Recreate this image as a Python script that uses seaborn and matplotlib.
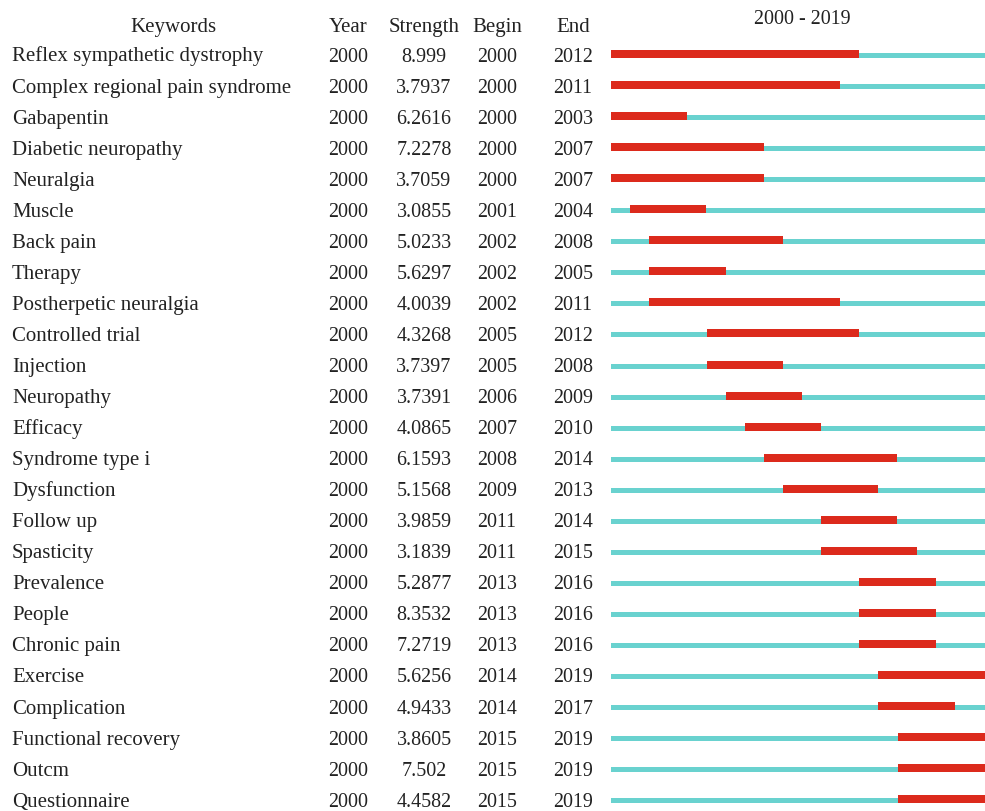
import matplotlib
matplotlib.use("Agg")
import matplotlib.pyplot as plt
import matplotlib.transforms as mtransforms
import seaborn as sns

keywords = [
    "Reflex sympathetic dystrophy", "Complex regional pain syndrome", "Gabapentin",
    "Diabetic neuropathy", "Neuralgia", "Muscle", "Back pain", "Therapy",
    "Postherpetic neuralgia", "Controlled trial", "Injection", "Neuropathy",
    "Efficacy", "Syndrome type i", "Dysfunction", "Follow up", "Spasticity",
    "Prevalence", "People", "Chronic pain", "Exercise", "Complication",
    "Functional recovery", "Outcm", "Questionnaire",
]
years = [2000] * 25
strength = [
    "8.999", "3.7937", "6.2616", "7.2278", "3.7059", "3.0855", "5.0233", "5.6297",
    "4.0039", "4.3268", "3.7397", "3.7391", "4.0865", "6.1593", "5.1568", "3.9859",
    "3.1839", "5.2877", "8.3532", "7.2719", "5.6256", "4.9433", "3.8605", "7.502",
    "4.4582",
]
begin = [2000, 2000, 2000, 2000, 2000, 2001, 2002, 2002, 2002, 2005, 2005, 2006,
         2007, 2008, 2009, 2011, 2011, 2013, 2013, 2013, 2014, 2014, 2015, 2015, 2015]
end = [2012, 2011, 2003, 2007, 2007, 2004, 2008, 2005, 2011, 2012, 2008, 2009,
       2010, 2014, 2013, 2014, 2015, 2016, 2016, 2016, 2019, 2017, 2019, 2019, 2019]
span_start, span_end = 2000, 2019

RED = "#dc2a1c"
CYAN = "#69d2cf"
INK = "#222222"

sns.set_theme(style="white")
plt.rcParams["font.family"] = ["Liberation Serif", "DejaVu Serif"]

W, H = 985, 811
fig = plt.figure(figsize=(W / 100, H / 100), dpi=100)

# timeline axes on the right; one data unit in y = one keyword row
row_px = 31.05
first_px = 58.0
x0_px = 611.0
year_px = 19.1
ax = fig.add_axes([x0_px / W, 0, 1 - x0_px / W, 1])
ax.set_xlim(span_start, span_start + (W - x0_px) / year_px)
ax.set_ylim((H - first_px) / row_px, -first_px / row_px)
ax.axis("off")

rows = list(range(len(keywords)))
red_h = 8 / row_px
cyan_h = 5 / row_px
ax.barh([r - cyan_h for r in rows], [span_end - span_start + 1] * len(rows),
        left=span_start, height=cyan_h, align="edge", color=CYAN, linewidth=0)
ax.barh([r - red_h for r in rows], [e - b + 1 for b, e in zip(begin, end)],
        left=begin, height=red_h, align="edge", color=RED, linewidth=0)

trans = mtransforms.blended_transform_factory(fig.transFigure, ax.transData)
fs_text = 15.0
fs_num = 14.4
base_off = 3.5 / row_px
cols = [(12, "left"), (348, "center"), (424, "center"), (497, "center"), (573, "center")]
headers = ["Keywords", "Year", "Strength", "Begin", "End"]
header_y = (32 - first_px) / row_px
for (x, ha), h in zip(cols, headers):
    hx = 173 if h == "Keywords" else x
    ax.text(hx / W, header_y, h, transform=trans, ha="center", va="baseline",
            fontsize=fs_text, color=INK)
ax.text(802 / W, (24 - first_px) / row_px, f"{span_start} - {span_end}",
        transform=trans, ha="center", va="baseline", fontsize=fs_num, color=INK)

for r in rows:
    vals = [keywords[r], str(years[r]), strength[r], str(begin[r]), str(end[r])]
    for i, ((x, ha), v) in enumerate(zip(cols, vals)):
        ax.text(x / W, r + base_off, v, transform=trans, ha=ha, va="baseline",
                fontsize=fs_text if i == 0 else fs_num, color=INK)

fig.savefig("out.png", dpi=100)
